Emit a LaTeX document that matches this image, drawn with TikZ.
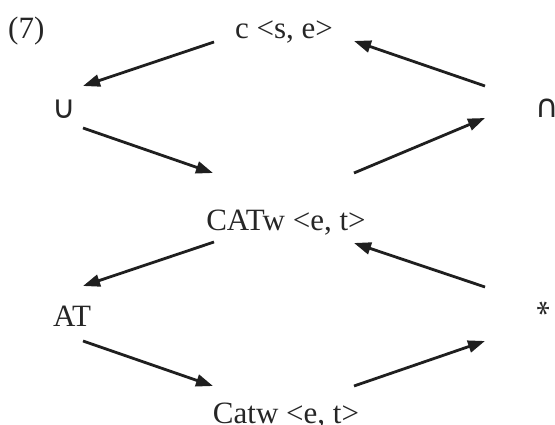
\documentclass[tikz,border=0pt]{standalone}
\usepackage{fontspec}
\setmainfont{Liberation Serif}
\newfontfamily\symfont{DejaVu Sans}
\usetikzlibrary{arrows.meta}
\tikzset{
  lbl/.style={anchor=base, inner sep=0pt, font=\fontsize{31}{36}\selectfont, text=black!85},
  sym/.style={anchor=base, inner sep=0pt, font=\symfont\fontsize{32}{36}\selectfont, text=black!85},
  starsym/.style={anchor=center, inner sep=0pt, text height=0pt, text depth=0pt, rotate=-90, font=\fontsize{32}{36}\selectfont, text=black!85},
  arr/.style={line width=2.8pt, draw=black!88, -{Triangle[length=17pt,width=12pt]}}
}
\begin{document}
\begin{tikzpicture}[x=1pt,y=-1pt]
\useasboundingbox (0,0) rectangle (555,425);
% nodes
\node[lbl, anchor=base west] (n7) at (8,39) {(7)};
\node[lbl] (cse) at (284,39) {c <s, e>};
\node[sym] (cupn) at (64,118.5) {∪};
\node[sym] (capn) at (547,118) {∩};
\node[lbl] (catwa) at (286,231) {CATw <e, t>};
\node[lbl] (atn) at (72,326.5) {AT};
\node[starsym] (starn) at (543.5,309) {\raisebox{-15.5pt}{*}};
\node[lbl] (catwb) at (286,423) {Catw <e, t>};
% arrow end points
\coordinate (a1s) at (214,42);  \coordinate (a1e) at (83,86);
\coordinate (a2s) at (485,86);  \coordinate (a2e) at (354,41);
\coordinate (a3s) at (83,128);  \coordinate (a3e) at (213,173);
\coordinate (a4s) at (354,173); \coordinate (a4e) at (485,118);
\coordinate (a5s) at (214,242); \coordinate (a5e) at (83,286);
\coordinate (a6s) at (485,287); \coordinate (a6e) at (354,243);
\coordinate (a7s) at (83,341);  \coordinate (a7e) at (213,386);
\coordinate (a8s) at (354,386); \coordinate (a8e) at (485,341);
% arrows
\draw[arr] (a1s) -- (a1e);
\draw[arr] (a2s) -- (a2e);
\draw[arr] (a3s) -- (a3e);
\draw[arr] (a4s) -- (a4e);
\draw[arr] (a5s) -- (a5e);
\draw[arr] (a6s) -- (a6e);
\draw[arr] (a7s) -- (a7e);
\draw[arr] (a8s) -- (a8e);
\end{tikzpicture}
\end{document}
